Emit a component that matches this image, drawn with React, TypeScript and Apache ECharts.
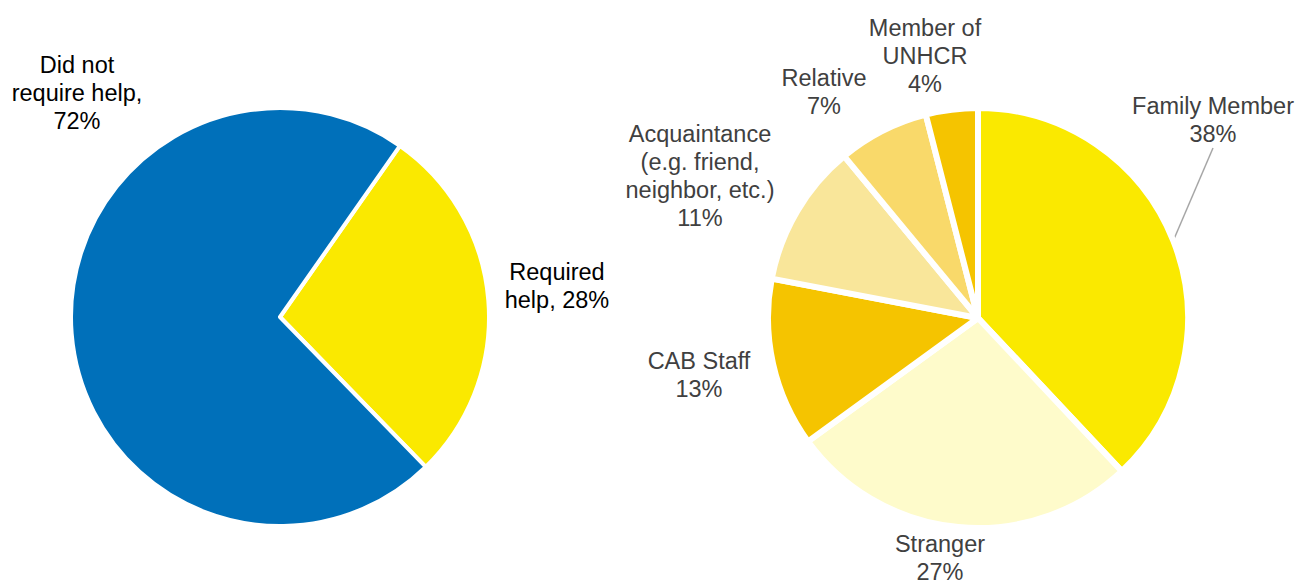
import React, { useEffect, useRef } from "react";
import * as echarts from "echarts";

const helpCategories = ["Required help", "Did not require help"];
const helpValues = [28, 72];
const helpLabels = ["Required\nhelp, 28%", "Did not\nrequire help,\n72%"];
const helpColors = ["#FAE900", "#0070BA"];

const sourceCategories = ["Family Member", "Stranger", "CAB Staff", "Acquaintance (e.g. friend, neighbor, etc.)", "Relative", "Member of UNHCR"];
const sourceValues = [38, 27, 13, 11, 7, 4];
const sourceLabels = [
  "Family Member\n38%",
  "Stranger\n27%",
  "CAB Staff\n13%",
  "Acquaintance\n(e.g. friend,\nneighbor, etc.)\n11%",
  "Relative\n7%",
  "Member of\nUNHCR\n4%",
];
const sourceColors = ["#FAE900", "#FEFBCB", "#F5C400", "#F9E69A", "#F9D96A", "#F5C400"];

// label anchor points (layout only)
const helpLabelPos = [[557, 286], [77, 93]];
const sourceLabelPos = [[1213, 120], [940, 558], [699, 375], [700, 176], [824, 92], [925, 56]];

export default function App() {
  const ref = useRef<HTMLDivElement>(null);
  useEffect(() => {
    document.body.style.margin = "0";
    const chart = echarts.init(ref.current!, null, { renderer: "svg" });
    const font = "'Liberation Sans', Arial, sans-serif";
    chart.setOption({
      animation: false,
      backgroundColor: "#ffffff",
      series: [
        {
          type: "pie",
          center: [280, 317],
          radius: [0, 209],
          startAngle: 55,
          clockwise: true,
          itemStyle: { borderColor: "#ffffff", borderWidth: 4 },
          label: {
            show: true,
            position: "outside",
            color: "#000000",
            fontFamily: font,
            fontSize: 23.5,
            lineHeight: 28,
            align: "center",
            overflow: "none",
          },
          labelLine: { show: false },
          labelLayout: (p: any) => ({
            x: helpLabelPos[p.dataIndex][0],
            y: helpLabelPos[p.dataIndex][1],
            align: "center",
            verticalAlign: "middle",
          }),
          data: helpCategories.map((c, i) => ({
            name: c,
            value: helpValues[i],
            itemStyle: { color: helpColors[i] },
            label: { formatter: helpLabels[i] },
          })),
        },
        {
          type: "pie",
          center: [978, 318],
          radius: [0, 210],
          startAngle: 90,
          clockwise: true,
          itemStyle: { borderColor: "#ffffff", borderWidth: 6 },
          label: {
            show: true,
            position: "outside",
            color: "#404040",
            fontFamily: font,
            fontSize: 23.5,
            lineHeight: 28,
            align: "center",
            overflow: "none",
          },
          labelLine: { show: false, lineStyle: { color: "#A6A6A6", width: 1.5 } },
          labelLayout: (p: any) => ({
            x: sourceLabelPos[p.dataIndex][0],
            y: sourceLabelPos[p.dataIndex][1],
            align: "center",
            verticalAlign: "middle",
          }),
          data: sourceCategories.map((c, i) => ({
            name: c,
            value: sourceValues[i],
            itemStyle: { color: sourceColors[i] },
            label: { formatter: sourceLabels[i] },
            labelLine: { show: i === 0, length: 10, length2: 0 },
          })),
        },
      ],
    });
    return () => chart.dispose();
  }, []);
  return <div ref={ref} style={{ width: 1298, height: 586 }} />;
}
